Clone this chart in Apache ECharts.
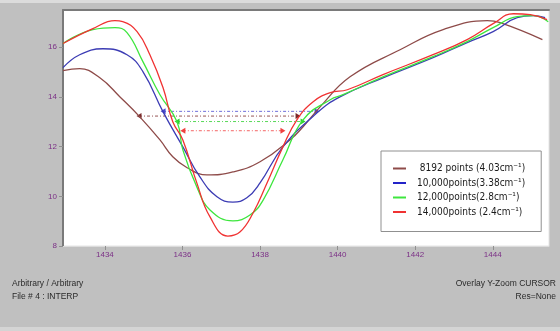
<!DOCTYPE html>
<html>
<head>
<meta charset="utf-8">
<script src="https://cdn.jsdelivr.net/npm/echarts@6/dist/echarts.min.js"></script>
<style>
html,body{margin:0;padding:0;background:#c0c0c0;}
#chart{width:560px;height:331px;}
</style>
</head>
<body>
<div id="chart"></div>
<script>
// ---- data ----
const seriesNames = [' 8192 points (4.03cm\u207B\u00B9)', '10,000points(3.38cm\u207B\u00B9)', '12,000points(2.8cm\u207B\u00B9)', '14,000points (2.4cm\u207B\u00B9)'];
const xTicks = [1434, 1436, 1438, 1440, 1442, 1444];
const yTicks = [8, 10, 12, 14, 16];

const brown = [[1432.92,15.06],[1433.35,15.14],[1433.87,14.77],[1434.39,14.0],[1434.90,13.2],[1435.42,12.27],[1435.75,11.59],[1436.12,11.15],[1436.63,10.86],[1437.30,10.98],[1438.0,11.39],[1438.77,12.27],[1439.11,12.8],[1439.55,13.6],[1440.32,14.81],[1441.61,15.9],[1442.72,16.71],[1443.86,17.07],[1444.19,16.99],[1445.28,16.31]];
const blue = [[1432.92,15.18],[1433.35,15.7],[1433.95,15.94],[1434.57,15.7],[1434.98,15.02],[1435.50,13.4],[1436.01,11.99],[1436.45,10.78],[1436.89,9.98],[1437.30,9.77],[1437.66,9.94],[1438.0,10.54],[1438.59,11.99],[1439.47,13.36],[1440.06,14.0],[1441.17,14.77],[1442.46,15.58],[1443.34,16.19],[1444.01,16.63],[1444.63,17.19],[1445.04,17.27],[1445.35,17.19]];
const green = [[1432.92,16.15],[1433.69,16.71],[1434.26,16.79],[1434.57,16.59],[1434.98,15.42],[1435.42,14.09],[1435.86,13.0],[1436.01,11.87],[1436.37,10.38],[1436.71,9.45],[1437.30,9.01],[1437.74,9.25],[1438.08,9.85],[1438.59,11.47],[1439.11,13.08],[1439.81,13.89],[1440.14,14.09],[1441.17,14.81],[1442.46,15.62],[1443.34,16.23],[1444.01,16.79],[1444.63,17.23],[1445.04,17.27],[1445.43,17.03]];
const red = [[1432.92,16.15],[1433.69,16.75],[1434.26,17.07],[1434.46,17.03],[1434.83,16.63],[1435.16,15.70],[1435.50,14.37],[1435.75,13.0],[1436.01,12.27],[1436.37,10.54],[1436.71,9.17],[1437.17,8.40],[1437.48,8.56],[1437.82,9.33],[1438.18,10.54],[1438.59,11.99],[1438.95,13.08],[1439.37,13.81],[1439.81,14.17],[1440.25,14.29],[1441.17,14.9],[1442.46,15.70],[1443.34,16.31],[1444.01,16.95],[1444.53,17.35],[1444.97,17.31],[1445.40,17.11]];

const cursorBrown = [[1434.88,13.23],[1438.98,13.23]];
const cursorBlue = [[1435.50,13.42],[1439.47,13.42]];
const cursorGreen = [[1435.86,13.01],[1439.11,13.01]];
const cursorRed = [[1436.01,12.64],[1438.59,12.64]];

// ---- style ----
const colors = ['#8e4b49', '#3c3cb4', '#3ee63e', '#f03232'];
const legendColors = ['#8e4b49', '#2323c8', '#3ee63e', '#f03232'];
const FONT = 'Liberation Sans, Arial, sans-serif';
const LFONT = '"DejaVu Sans Condensed", "DejaVu Sans", sans-serif';

function curve(name, data, color) {
  return {
    name: name, type: 'line', data: data, smooth: 0.45, showSymbol: false,
    lineStyle: {color: color, width: 1.3}, itemStyle: {color: color},
    z: 3, silent: true
  };
}
function cursor(data, color) {
  return {
    type: 'line', data: data.map((p, i) => ({value: p, symbolRotate: i === 0 ? 90 : -90})),
    symbol: 'triangle', symbolSize: [6, 5], showSymbol: true,
    lineStyle: {color: color, width: 1, type: [3, 2, 1, 2], opacity: 0.8},
    itemStyle: {color: color}, z: 2, silent: true
  };
}

const chart = echarts.init(document.getElementById('chart'), null, {renderer: 'canvas'});
chart.setOption({
  animation: false,
  backgroundColor: '#c0c0c0',
  grid: {left: 63, top: 10, right: 11, bottom: 85, show: true, backgroundColor: '#ffffff', borderWidth: 1, borderColor: '#e4e4e4'},
  xAxis: [{
    type: 'value', min: 1432.92, max: 1445.45, position: 'bottom',
    axisLine: {show: true, onZero: false, lineStyle: {color: '#dcdcdc', width: 1}},
    axisTick: {show: true, customValues: xTicks, length: 4, inside: false, lineStyle: {color: '#909090'}},
    axisLabel: {customValues: xTicks, formatter: v => String(v), color: '#7b2f86', fontSize: 8, fontFamily: FONT, margin: 5},
    splitLine: {show: false}
  }, {
    type: 'value', min: 1432.92, max: 1445.45, position: 'top',
    axisLine: {show: true, onZero: false, lineStyle: {color: '#7a7a7a', width: 2}},
    axisTick: {show: false}, axisLabel: {show: false}, splitLine: {show: false}
  }],
  yAxis: {
    type: 'value', min: 8, max: 17.5,
    axisLine: {show: true, onZero: false, lineStyle: {color: '#7a7a7a', width: 2}},
    axisTick: {show: true, customValues: yTicks, length: 4, lineStyle: {color: '#909090'}},
    axisLabel: {customValues: yTicks, formatter: v => String(v), color: '#7b2f86', fontSize: 8, fontFamily: FONT, margin: 6},
    splitLine: {show: false}
  },
  legend: {
    data: seriesNames.map((n, i) => ({name: n, itemStyle: {color: legendColors[i]}})),
    orient: 'vertical', left: 381, top: 151,
    padding: [12, 16, 14, 12], itemGap: 3.5,
    backgroundColor: '#ffffff', borderColor: '#909090', borderWidth: 1,
    icon: 'rect', itemWidth: 13, itemHeight: 2,
    selectedMode: false,
    textStyle: {color: '#1a1a1a', fontSize: 10, fontFamily: LFONT, padding: [0, 0, 0, 6], lineHeight: 11}
  },
  series: [
    cursor(cursorBrown, '#7a2a2a'),
    cursor(cursorBlue, '#4a4ad0'),
    cursor(cursorGreen, '#30d030'),
    cursor(cursorRed, '#f04040'),
    curve(seriesNames[0], brown, colors[0]),
    curve(seriesNames[1], blue, colors[1]),
    curve(seriesNames[2], green, colors[2]),
    curve(seriesNames[3], red, colors[3])
  ],
  graphic: [
    {type: 'rect', left: 0, top: 0, shape: {width: 560, height: 3}, style: {fill: '#dcdcdc'}, silent: true},
    {type: 'rect', left: 0, top: 327, shape: {width: 560, height: 4}, style: {fill: '#d4d4d4'}, silent: true},
    {type: 'text', left: 12, top: 279, style: {text: 'Arbitrary / Arbitrary', fill: '#2a2a2a', font: '8.5px ' + FONT}},
    {type: 'text', left: 12, top: 292, style: {text: 'File # 4 : INTERP', fill: '#2a2a2a', font: '8.5px ' + FONT}},
    {type: 'text', right: 4, top: 279, style: {text: 'Overlay Y-Zoom CURSOR', fill: '#2a2a2a', font: '8.5px ' + FONT}},
    {type: 'text', right: 4, top: 292, style: {text: 'Res=None', fill: '#2a2a2a', font: '8.5px ' + FONT}}
  ]
});
</script>
</body>
</html>
